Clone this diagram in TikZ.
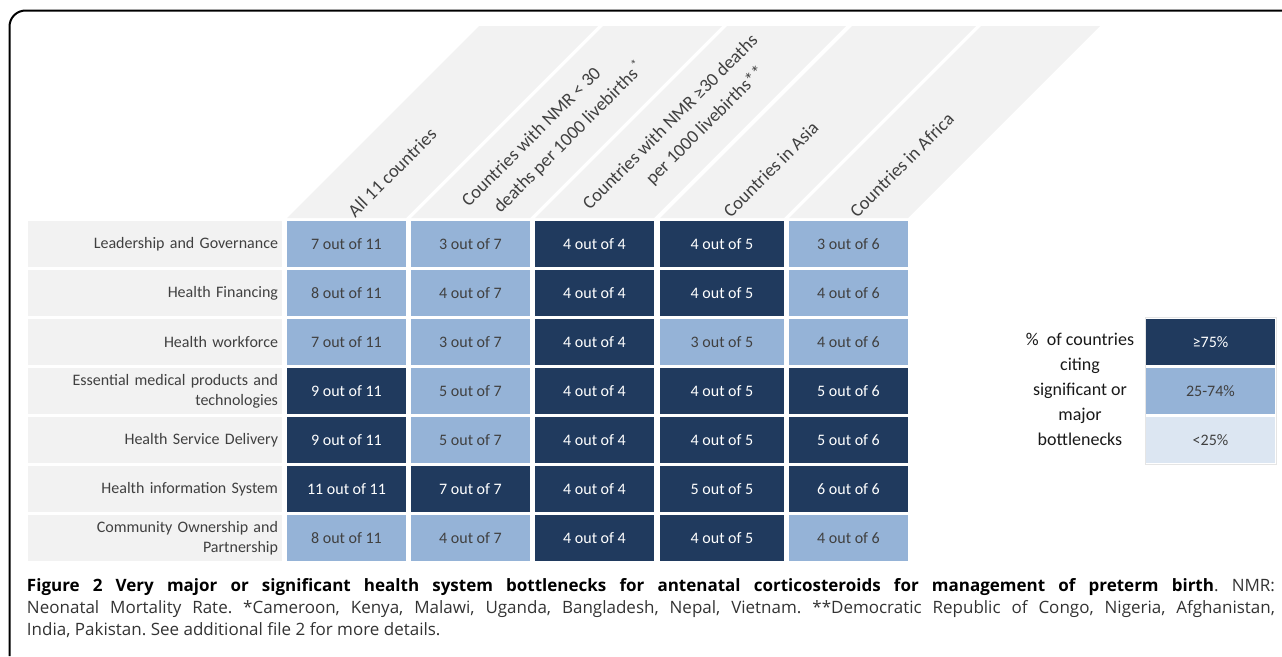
\documentclass[tikz,border=0pt]{standalone}
\usepackage{fontspec}
\setmainfont{Carlito}
\newfontfamily\capfont{Open Sans}
\usepackage{tikz}
\usetikzlibrary{positioning,calc}
\definecolor{navy}{RGB}{32,58,94}
\definecolor{steel}{RGB}{149,179,215}
\definecolor{pale}{RGB}{220,230,242}
\definecolor{shade}{RGB}{242,242,242}
\definecolor{ink}{RGB}{64,64,64}
\tikzstyle{every node}=[inner sep=0pt,outer sep=0pt,font=\fontsize{16}{20}\selectfont]
\tikzstyle{cell}=[minimum width=119pt,minimum height=46pt]
\tikzstyle{dark}=[cell,fill=navy,text=white]
\tikzstyle{mid}=[cell,fill=steel,text=ink]
\tikzstyle{low}=[cell,fill=pale,text=ink]
\tikzstyle{asia}=[minimum width=124pt]
\tikzstyle{rowhead}=[fill=shade,text=ink,text width=246pt,inner xsep=4pt,minimum height=46pt,align=right]
\tikzstyle{headband}=[fill=shade]
\tikzstyle{headtext}=[rotate=45,anchor=west,align=left,text=ink,inner sep=2pt,font=\fontsize{18.5}{27}\selectfont]
\tikzstyle{legtext}=[align=center,text=black!90,font=\fontsize{18}{25}\selectfont]
\tikzstyle{frame}=[line width=2pt,rounded corners=16pt]
\tikzstyle{caption}=[anchor=base west,text=black!80,font=\capfont\fontsize{17}{22}\selectfont\frenchspacing]

\begin{document}
\begin{tikzpicture}[x=1pt,y=-1pt]
  \useasboundingbox (0,0) rectangle (1282,656);
  \draw[frame] (9.5,656) -- (9.5,10.5) -- (1282,10.5);
  \node[rowhead] (l1) at (155,244) {Leadership and Governance};
  \node[rowhead,below=3pt of l1] (l2) {Health Financing};
  \node[rowhead,below=3pt of l2] (l3) {Health workforce};
  \node[rowhead,below=3pt of l3] (l4) {Essential medical products and\\technologies};
  \node[rowhead,below=3pt of l4] (l5) {Health Service Delivery};
  \node[rowhead,below=3pt of l5] (l6) {Health information System};
  \node[rowhead,below=3pt of l6] (l7) {Community Ownership and\\Partnership};

  \node[mid,right=5pt of l1] (c11) {7 out of 11};
  \node[mid,right=5pt of c11] (c12) {3 out of 7};
  \node[dark,right=5pt of c12] (c13) {4 out of 4};
  \node[dark,asia,right=6pt of c13] (c14) {4 out of 5};
  \node[mid,right=5pt of c14] (c15) {3 out of 6};

  \node[mid,right=5pt of l2] (c21) {8 out of 11};
  \node[mid,right=5pt of c21] (c22) {4 out of 7};
  \node[dark,right=5pt of c22] (c23) {4 out of 4};
  \node[dark,asia,right=6pt of c23] (c24) {4 out of 5};
  \node[mid,right=5pt of c24] (c25) {4 out of 6};

  \node[mid,right=5pt of l3] (c31) {7 out of 11};
  \node[mid,right=5pt of c31] (c32) {3 out of 7};
  \node[dark,right=5pt of c32] (c33) {4 out of 4};
  \node[mid,asia,right=6pt of c33] (c34) {3 out of 5};
  \node[mid,right=5pt of c34] (c35) {4 out of 6};

  \node[dark,right=5pt of l4] (c41) {9 out of 11};
  \node[mid,right=5pt of c41] (c42) {5 out of 7};
  \node[dark,right=5pt of c42] (c43) {4 out of 4};
  \node[dark,asia,right=6pt of c43] (c44) {4 out of 5};
  \node[dark,right=5pt of c44] (c45) {5 out of 6};

  \node[dark,right=5pt of l5] (c51) {9 out of 11};
  \node[mid,right=5pt of c51] (c52) {5 out of 7};
  \node[dark,right=5pt of c52] (c53) {4 out of 4};
  \node[dark,asia,right=6pt of c53] (c54) {4 out of 5};
  \node[dark,right=5pt of c54] (c55) {5 out of 6};

  \node[dark,right=5pt of l6] (c61) {11 out of 11};
  \node[dark,right=5pt of c61] (c62) {7 out of 7};
  \node[dark,right=5pt of c62] (c63) {4 out of 4};
  \node[dark,asia,right=6pt of c63] (c64) {5 out of 5};
  \node[dark,right=5pt of c64] (c65) {6 out of 6};

  \node[mid,right=5pt of l7] (c71) {8 out of 11};
  \node[mid,right=5pt of c71] (c72) {4 out of 7};
  \node[dark,right=5pt of c72] (c73) {4 out of 4};
  \node[dark,asia,right=6pt of c73] (c74) {4 out of 5};
  \node[mid,right=5pt of c74] (c75) {4 out of 6};

  \fill[headband] ($(c11.north west)+(0,-3)$) -- ($(c11.north east)+(0,-3)$) -- ($(c11.north east)+(192,-195)$) -- ($(c11.north west)+(192,-195)$) -- cycle;
  \fill[headband] ($(c12.north west)+(0,-3)$) -- ($(c12.north east)+(0,-3)$) -- ($(c12.north east)+(192,-195)$) -- ($(c12.north west)+(192,-195)$) -- cycle;
  \fill[headband] ($(c13.north west)+(0,-3)$) -- ($(c13.north east)+(0,-3)$) -- ($(c13.north east)+(192,-195)$) -- ($(c13.north west)+(192,-195)$) -- cycle;
  \fill[headband] ($(c14.north west)+(0,-3)$) -- ($(c14.north east)+(0,-3)$) -- ($(c14.north east)+(192,-195)$) -- ($(c14.north west)+(192,-195)$) -- cycle;
  \fill[headband] ($(c15.north west)+(0,-3)$) -- ($(c15.north east)+(0,-3)$) -- ($(c15.north east)+(192,-195)$) -- ($(c15.north west)+(192,-195)$) -- cycle;

  \node[headtext] (t1) at ($(c11.north)+(3,-6)$) {All 11 countries};
  \node[headtext] (t2) at ($(c12.north)+(3,-6)$) {Countries with NMR < 30\\\hspace*{18pt}deaths per 1000 livebirths\textsuperscript{\,*}};
  \node[headtext] (t3) at ($(c13.north)+(0,-3)$) {Countries with NMR ≥30 deaths\\\hspace*{62pt}per 1000 livebirths**};
  \node[headtext] (t4) at ($(c14.north)+(3,-6)$) {Countries in Asia};
  \node[headtext] (t5) at ($(c15.north)+(3,-6)$) {Countries in Africa};

  \node[legtext] (key) at (1080,389) {\% \ of countries\\citing\\significant or\\major\\bottlenecks};
  \node[dark,minimum width=129pt] (g1) at (1210.5,342) {≥75\%};
  \node[mid,minimum width=129pt,below=3pt of g1] (g2) {25-74\%};
  \node[low,minimum width=129pt,below=3pt of g2] (g3) {<25\%};
  \draw[gray!20,line width=0.8pt] ($(g1.north west)+(-1,-1.5)$) rectangle ($(g3.south east)+(1.5,1)$);

  \node[caption] (cap1) at (27,591) {\makebox[1248pt][s]{{\color{black}\textbf{Figure 2 Very major or significant health system bottlenecks for antenatal corticosteroids for management of preterm birth}}. NMR:}};
  \node[caption] (cap2) at (27,613) {\makebox[1248pt][s]{Neonatal Mortality Rate. *Cameroon, Kenya, Malawi, Uganda, Bangladesh, Nepal, Vietnam. **Democratic Republic of Congo, Nigeria, Afghanistan,}};
  \node[caption] (cap3) at (27,635) {India, Pakistan. See additional file 2 for more details.};
\end{tikzpicture}
\end{document}
